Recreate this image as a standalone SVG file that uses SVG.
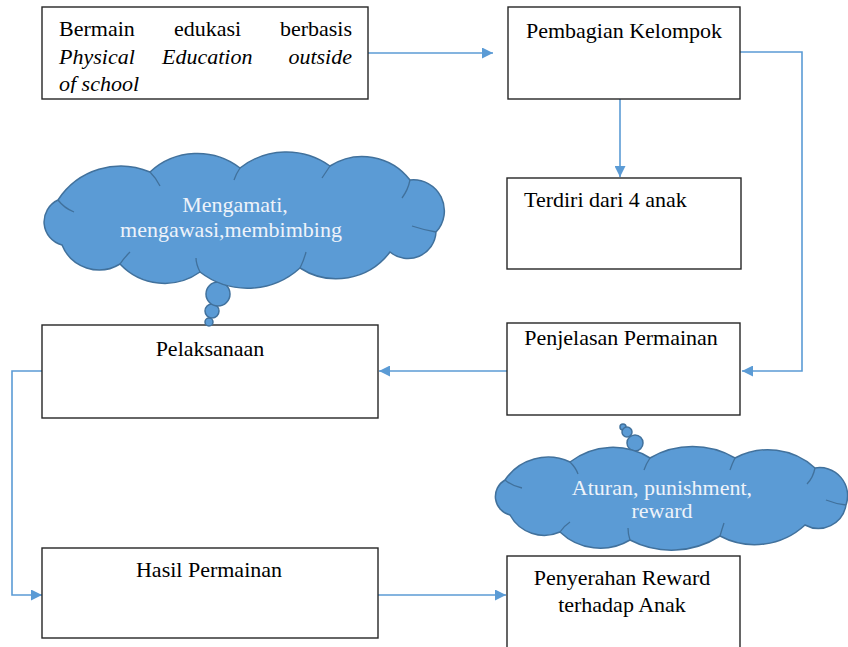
<svg xmlns="http://www.w3.org/2000/svg" width="848" height="647" viewBox="0 0 848 647">
<defs>
<marker id="ah" viewBox="0 0 10 10" refX="10" refY="5" markerWidth="11" markerHeight="11" markerUnits="userSpaceOnUse" orient="auto">
<path d="M0,0 L10,5 L0,10 z" fill="#5b9bd5"/>
</marker>
</defs>
<rect width="848" height="647" fill="#fff"/>
<g id="connectors" fill="none" stroke="#5b9bd5" stroke-width="1.6">
<path d="M368,53 H493" marker-end="url(#ah)"/>
<path d="M620,99 V177" marker-end="url(#ah)"/>
<path d="M740,52 H802 V371 H742" marker-end="url(#ah)"/>
<path d="M507,371 H379" marker-end="url(#ah)"/>
<path d="M42,371 H12 V595 H42" marker-end="url(#ah)"/>
<path d="M378,595 H506" marker-end="url(#ah)"/>
</g>
<g id="n1">
<rect x="42" y="7" width="326" height="92" fill="#fff"/>
<text x="59" y="36" font-family="Liberation Serif" font-size="22" style="font-family:'Liberation Serif'">Bermain</text>
<text x="174" y="36" font-family="Liberation Serif" font-size="22" style="font-family:'Liberation Serif'">edukasi</text>
<text x="352" y="36" text-anchor="end" font-family="Liberation Serif" font-size="22" style="font-family:'Liberation Serif'">berbasis</text>
<text x="59" y="64" font-family="Liberation Serif" font-size="22" font-style="italic" style="font-family:'Liberation Serif'">Physical</text>
<text x="162" y="64" font-family="Liberation Serif" font-size="22" font-style="italic" style="font-family:'Liberation Serif'">Education</text>
<text x="352" y="64" text-anchor="end" font-family="Liberation Serif" font-size="22" font-style="italic" style="font-family:'Liberation Serif'">outside</text>
<text x="59" y="91" font-family="Liberation Serif" font-size="22" font-style="italic" style="font-family:'Liberation Serif'">of school</text>
<rect x="43" y="93" width="324" height="6" fill="#fff"/>
<rect x="42" y="7" width="326" height="92" fill="none" stroke="#262626" stroke-width="1.4"/>
</g>
<g id="n2">
<rect x="508" y="7" width="232" height="92" fill="#fff" stroke="#262626" stroke-width="1.4"/>
<text x="624" y="38" text-anchor="middle" font-family="Liberation Serif" font-size="22" style="font-family:'Liberation Serif'">Pembagian Kelompok</text>
</g>
<g id="n3">
<rect x="507" y="178" width="234" height="91" fill="#fff" stroke="#262626" stroke-width="1.4"/>
<text x="524" y="207" font-family="Liberation Serif" font-size="22" style="font-family:'Liberation Serif'">Terdiri dari 4 anak</text>
</g>
<g id="n4">
<rect x="507" y="323" width="233" height="92" fill="#fff" stroke="#262626" stroke-width="1.4"/>
<text x="621" y="345" text-anchor="middle" font-family="Liberation Serif" font-size="22" style="font-family:'Liberation Serif'">Penjelasan Permainan</text>
</g>
<g id="n5">
<rect x="42" y="325" width="336" height="93" fill="#fff" stroke="#262626" stroke-width="1.4"/>
<text x="210" y="356" text-anchor="middle" font-family="Liberation Serif" font-size="22" style="font-family:'Liberation Serif'">Pelaksanaan</text>
</g>
<g id="n6">
<rect x="42" y="548" width="336" height="90" fill="#fff" stroke="#262626" stroke-width="1.4"/>
<text x="209" y="577" text-anchor="middle" font-family="Liberation Serif" font-size="22" style="font-family:'Liberation Serif'">Hasil Permainan</text>
</g>
<g id="n7">
<rect x="507" y="556" width="233" height="100" fill="#fff" stroke="#262626" stroke-width="1.4"/>
<text x="622" y="585" text-anchor="middle" font-family="Liberation Serif" font-size="22" style="font-family:'Liberation Serif'">Penyerahan Reward</text>
<text x="622" y="612" text-anchor="middle" font-family="Liberation Serif" font-size="22" style="font-family:'Liberation Serif'">terhadap Anak</text>
</g>
<g id="cloud1">
<g fill="#5b9bd5" stroke="#41719c" stroke-width="1.5">
<circle cx="209" cy="322" r="4"/>
<circle cx="212" cy="311" r="7"/>
<circle cx="218" cy="294" r="12"/>
<path d="M58,200 A75,75 0 0 1 150,172 A70,70 0 0 1 240,168 A75,75 0 0 1 330,166 A60,60 0 0 1 410,180 A31,31 0 0 1 436,232 A28,28 0 0 1 390,252 A67,67 0 0 1 300,268 A78,78 0 0 1 200,272 A61,61 0 0 1 120,264 A40,40 0 0 1 62,245 A24,24 0 0 1 58,200 Z"/>
</g>
<path fill="none" stroke="#41719c" stroke-width="1.3" d="M58,200 Q64,208 74,212 M150,172 Q156,178 160,186 M240,168 Q236,174 234,180 M330,166 Q326,172 322,178 M410,180 Q408,190 402,198 M436,232 Q424,230 412,226 M300,268 Q304,260 306,252 M200,272 Q196,264 196,258 M120,264 Q124,258 130,252"/>
<text x="235" y="212" text-anchor="middle" font-family="Liberation Serif" font-size="22" fill="#eef3fa" style="font-family:'Liberation Serif'">Mengamati,</text>
<text x="231" y="237" text-anchor="middle" font-family="Liberation Serif" font-size="22" fill="#eef3fa" style="font-family:'Liberation Serif'">mengawasi,membimbing</text>
</g>
<g id="cloud2">
<g fill="#5b9bd5" stroke="#41719c" stroke-width="1.5">
<circle cx="623" cy="427" r="3"/>
<circle cx="627" cy="432" r="5"/>
<circle cx="635" cy="443" r="8"/>
<path d="M505,480 A52,52 0 0 1 570,462 A70,70 0 0 1 650,458 A85,85 0 0 1 735,458 A70,70 0 0 1 815,468 A28,28 0 0 1 846,505 A28,28 0 0 1 805,525 A74,74 0 0 1 720,536 A90,90 0 0 1 630,540 A58,58 0 0 1 560,532 A39,39 0 0 1 510,515 A19,19 0 0 1 505,480 Z"/>
</g>
<path fill="none" stroke="#41719c" stroke-width="1.3" d="M505,480 Q512,486 522,488 M570,462 Q576,468 578,474 M650,458 Q646,464 644,470 M735,458 Q732,464 730,470 M815,468 Q813,478 807,484 M846,505 Q836,504 826,500 M720,536 Q722,529 724,523 M630,540 Q628,534 628,528 M560,532 Q564,526 570,522"/>
<text x="662" y="495" text-anchor="middle" font-family="Liberation Serif" font-size="22" fill="#eef3fa" style="font-family:'Liberation Serif'">Aturan, punishment,</text>
<text x="662" y="518" text-anchor="middle" font-family="Liberation Serif" font-size="22" fill="#eef3fa" style="font-family:'Liberation Serif'">reward</text>
</g>
</svg>
